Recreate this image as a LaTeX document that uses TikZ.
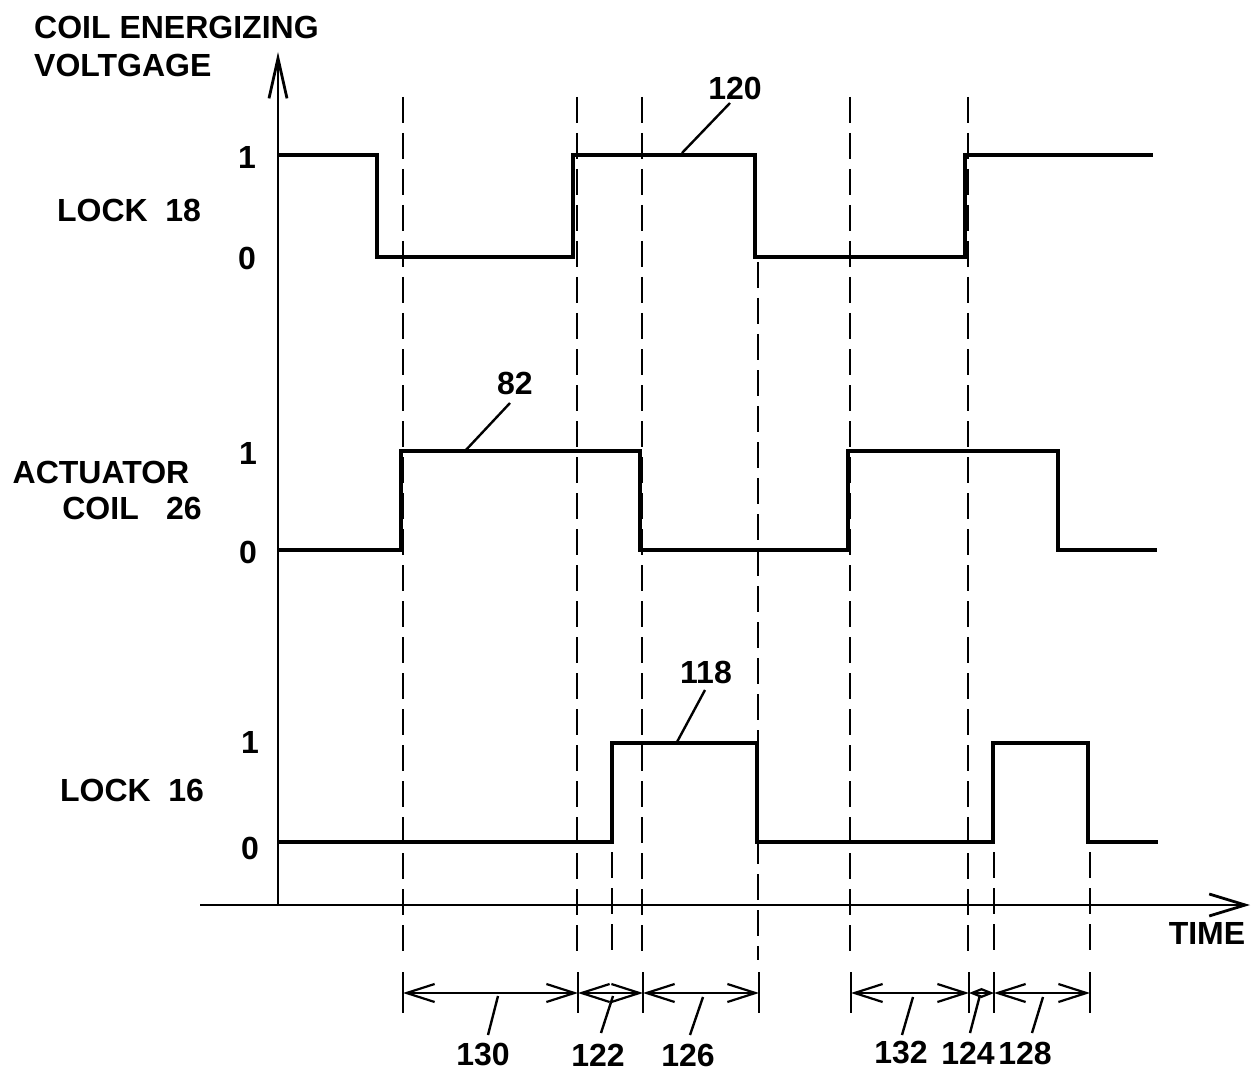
\documentclass[tikz,border=0pt]{standalone}
\usepackage{fontspec}
\setmainfont{Liberation Sans}
\usetikzlibrary{arrows.meta}
\begin{document}
\begin{tikzpicture}[x=1pt,y=-1pt,
  sig/.style={line width=3.8pt, line join=miter},
  axisline/.style={line width=2.8pt},
  dsh/.style={line width=2.3pt, dash pattern=on 26pt off 10pt},
  tickline/.style={line width=2.4pt},
  dimline/.style={line width=2.2pt, {Straight Barb[length=28pt,width=18pt]}-{Straight Barb[length=28pt,width=18pt]}},
  smalldim/.style={line width=2.2pt, {Straight Barb[length=10pt,width=8pt]}-{Straight Barb[length=10pt,width=8pt]}},
  leader/.style={line width=2.4pt},
  lbl/.style={font=\fontsize{32}{36}\selectfont\bfseries, inner sep=0pt},
]
\useasboundingbox (0,0) rectangle (1254,1078);

% axes
\coordinate (origin) at (278,905);
\coordinate (ytip) at (278,52);
\coordinate (xstart) at (200,905);
\coordinate (xtip) at (1250,905);
\draw[axisline, -{Straight Barb[length=40pt,width=18pt]}] (origin) -- (ytip);
\draw[axisline, -{Straight Barb[length=36pt,width=22pt]}] (xstart) -- (xtip);

\node[lbl, anchor=west] (ttl1) at (34,27) {COIL ENERGIZING};
\node[lbl, anchor=west] (ttl2) at (34,65) {VOLTGAGE};
\node[lbl] (time) at (1207,933) {TIME};

% row labels
\node[lbl] (lock18) at (129,210) {LOCK\hspace{0.55em}18};
\node[lbl] (act1) at (101,472) {ACTUATOR};
\node[lbl] (act2) at (132,508) {COIL\hspace{0.85em}26};
\node[lbl] (lock16) at (132,790) {LOCK\hspace{0.55em}16};
\node[lbl] (l18one) at (247,157) {1};
\node[lbl] (l18zero) at (247,258) {0};
\node[lbl] (a26one) at (248,453) {1};
\node[lbl] (a26zero) at (248,552) {0};
\node[lbl] (l16one) at (250,742) {1};
\node[lbl] (l16zero) at (250,848) {0};

% waveforms
\draw[sig] (278,155) -- (377,155) -- (377,257) -- (573,257) -- (573,155) -- (755,155) -- (755,257) -- (965,257) -- (965,155) -- (1153,155);
\draw[sig] (278,550) -- (401,550) -- (401,451) -- (640,451) -- (640,550) -- (848,550) -- (848,451) -- (1058,451) -- (1058,550) -- (1157,550);
\draw[sig] (278,842) -- (612,842) -- (612,743) -- (757,743) -- (757,842) -- (993,842) -- (993,743) -- (1088,743) -- (1088,842) -- (1158,842);

% dashed time markers
\foreach \x in {403,577,642,850,968} {\draw[dsh] (\x,97) -- (\x,960);}
\draw[dsh] (758,262) -- (758,960);
\foreach \x in {612,994,1090} {\draw[dsh] (\x,852) -- (\x,958);}

% dimension ticks
\foreach \n/\x in {a/403,b/578,c/643,d/759,e/851,f/969,g/994,h/1090} {
  \draw[tickline] (\x,972) -- (\x,1013);
  \coordinate (d\n) at (\x,993);
}
\draw[dimline] (da) -- (db);
\draw[dimline] (db) -- (dc);
\draw[dimline] (dc) -- (dd);
\draw[dimline] (de) -- (df);
\draw[smalldim] (df) -- (dg);
\draw[dimline] (dg) -- (dh);

% bottom labels and leaders
\node[lbl] (n130) at (483,1055) {130};
\node[lbl] (n122) at (598,1055) {122};
\node[lbl] (n126) at (688,1055) {126};
\node[lbl] (n132) at (901,1053) {132};
\node[lbl] (n124) at (968,1053) {124};
\node[lbl] (n128) at (1025,1053) {128};
\draw[leader] (498,996) -- (488,1035);
\draw[leader] (613,996) -- (601,1033);
\draw[leader] (703,997) -- (690,1035);
\draw[leader] (913,997) -- (902,1035);
\draw[leader] (980,995) -- (970,1033);
\draw[leader] (1043,997) -- (1032,1033);

% top callouts
\node[lbl] (n120) at (735,88) {120};
\node[lbl] (n82) at (515,383) {82};
\node[lbl] (n118) at (706,672) {118};
\draw[leader] (682,153) -- (730,103);
\draw[leader] (465,451) -- (510,403);
\draw[leader] (677,742) -- (705,690);
\end{tikzpicture}
\end{document}
